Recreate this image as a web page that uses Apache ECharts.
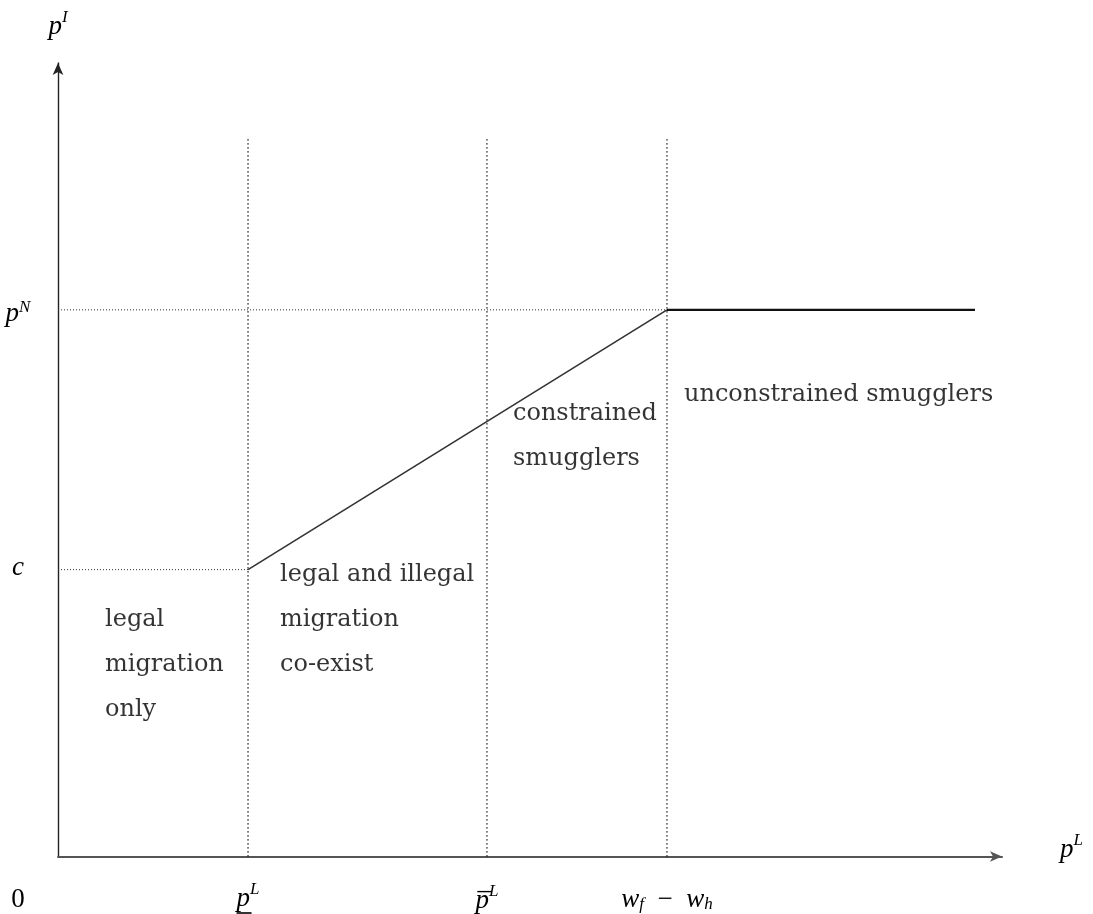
<!DOCTYPE html>
<html>
<head>
<meta charset="utf-8">
<script src="https://cdn.jsdelivr.net/npm/echarts@6/dist/echarts.min.js"></script>
<style>html,body{margin:0;padding:0;background:#fff}#c{width:1093px;height:914px}</style>
</head>
<body>
<div id="c"></div>
<script>
// ---- data ----
var xTickValues = [20.13, 45.44, 64.51];
var xTickLabels = ['{m|p}{s|L}\n{u| }', '{o|_}\n{m|p}{s|L}', '{m|w}{b|f}{r|\u2002\u2212\u2002}{m|w}{b|h}'];
var yTickValues = [0, 36.15, 68.89];
var yTickLabels = ['{z|0}', '{mc|c}', '{mp|p}{sp|N}'];
var pLow = 20.13, pBar = 45.44, wDiff = 64.51, xEnd = 97.14;
var cVal = 36.15, pN = 68.89, vTop = 90.68;
var curveX = [pLow, wDiff, xEnd];
var curveY = [cVal, pN, pN];
var regionNames = ['legal\nmigration\nonly', 'legal and illegal\nmigration\nco-exist', 'constrained\nsmugglers', 'unconstrained smugglers'];
var regionX = [4.98, 23.52, 48.2, 66.31];
var regionY = [24.18, 29.85, 52.9, 58.19];

var F = 'DejaVu Serif';
var M = 'Liberation Serif';
var base = {fontFamily: M, fontStyle: 'italic', fontSize: 27, color: '#000'};
var sup = {fontFamily: M, fontStyle: 'italic', fontSize: 17, color: '#000'};
function st(o, extra) { var r = {}; for (var k in o) r[k] = o[k]; for (var k2 in extra) r[k2] = extra[k2]; return r; }
var rich = {
  m: st(base, {lineHeight: 31, verticalAlign: 'bottom'}),
  s: st(sup, {lineHeight: 18, verticalAlign: 'top'}),
  mp: st(base, {lineHeight: 36, verticalAlign: 'bottom', padding: [7, 0, 0, 0]}),
  sp: st(sup, {lineHeight: 18, verticalAlign: 'top', padding: [7, 0, 0, 0]}),
  mc: st(base, {lineHeight: 36, padding: [0, 0, 4, 0]}),
  b: st(sup, {lineHeight: 20, verticalAlign: 'bottom'}),
  r: {fontFamily: M, fontSize: 27, lineHeight: 31, verticalAlign: 'bottom', color: '#000'},
  u: {width: 15, height: 1.6, lineHeight: 1.6, backgroundColor: '#000', align: 'left', fontSize: 2},
  o: {fontFamily: M, fontSize: 27, lineHeight: 2, align: 'left', color: '#000', padding: [0, 0, 0, 2]},
  z: {fontFamily: M, fontSize: 27, lineHeight: 30, padding: [86, 0, 0, 0], color: '#000'},
  t: {fontFamily: F, fontSize: 24, lineHeight: 45, color: '#000', align: 'left'}
};

function vline(x) { return [[x, 0], [x, vTop]]; }

var series = [];
[pLow, pBar, wDiff].forEach(function (x) {
  series.push({type: 'line', data: vline(x), symbol: 'none', silent: true,
    lineStyle: {color: '#000', width: 1.3, type: [1.3, 2.7]}});
});
series.push({type: 'line', data: [[0, pN], [wDiff, pN]], symbol: 'none', silent: true,
  lineStyle: {color: '#333', width: 1, type: [1, 2]}});
series.push({type: 'line', data: [[0, cVal], [pLow, cVal]], symbol: 'none', silent: true,
  lineStyle: {color: '#333', width: 1, type: [1, 2]}});
series.push({type: 'line', data: [[curveX[0], curveY[0]], [curveX[1], curveY[1]]], symbol: 'none', silent: true,
  lineStyle: {color: '#333', width: 1.6}});
series.push({type: 'line', data: [[curveX[1], curveY[1]], [curveX[2], curveY[2]]], symbol: 'none', silent: true,
  lineStyle: {color: '#111', width: 2.4}});
series.push({type: 'scatter', symbolSize: 0, silent: true,
  data: regionNames.map(function (n, i) { return {name: n, value: [regionX[i], regionY[i]]}; }),
  label: {show: true, position: 'right', distance: 0, align: 'left', color: '#000', rich: rich,
    formatter: function (p) { return p.name.split('\n').map(function (l) { return '{t|' + l + '}'; }).join('\n'); }}});

var chart = echarts.init(document.getElementById('c'));
chart.setOption({
  animation: false,
  grid: {left: 58, right: 91, top: 63, bottom: 57},
  xAxis: {
    type: 'value', min: 0, max: 100,
    name: '{m|p}{s|L}', nameLocation: 'end', nameGap: 58,
    nameTextStyle: {rich: rich, align: 'left', verticalAlign: 'middle', padding: [0, 0, 18, 0]},
    axisLine: {show: true, symbol: ['none', 'arrow'], symbolSize: [8, 12], lineStyle: {color: '#555', width: 2}},
    axisTick: {show: false},
    splitLine: {show: false},
    axisLabel: {customValues: xTickValues, margin: 41, verticalAlign: 'middle', rich: rich,
      formatter: function (v) { var i = xTickValues.indexOf(v); return i >= 0 ? xTickLabels[i] : ''; }}
  },
  yAxis: {
    type: 'value', min: 0, max: 100,
    name: '{m|p}{s|I}', nameLocation: 'end', nameGap: 38,
    nameTextStyle: {rich: rich, align: 'center', verticalAlign: 'middle'},
    axisLine: {show: true, symbol: ['none', 'arrow'], symbolSize: [8, 12], lineStyle: {color: '#222', width: 1.4}},
    axisTick: {show: false},
    splitLine: {show: false},
    axisLabel: {customValues: yTickValues, margin: 40, align: 'center', verticalAlign: 'middle', rich: rich,
      formatter: function (v) { var i = yTickValues.indexOf(v); return i >= 0 ? yTickLabels[i] : ''; }}
  },
  series: series
});
</script>
</body>
</html>
